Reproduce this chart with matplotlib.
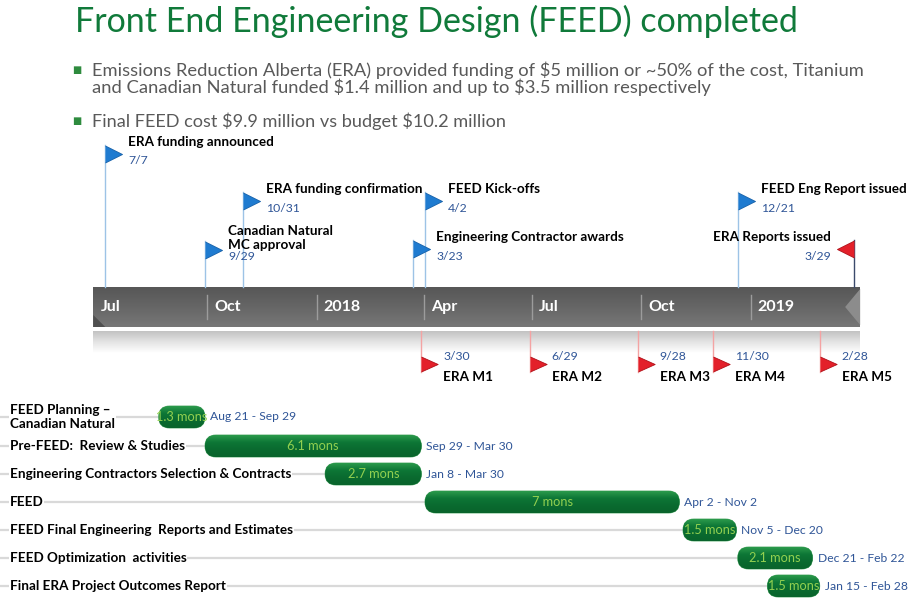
import datetime as dt
import numpy as np
import matplotlib
matplotlib.use("Agg")
import matplotlib.pyplot as plt
import matplotlib.dates as mdates
from matplotlib.patches import FancyBboxPatch, Polygon
from matplotlib.colors import LinearSegmentedColormap
from matplotlib.transforms import offset_copy, blended_transform_factory

plt.rcParams['font.family'] = ['Lato', 'DejaVu Sans']

# ---------------- data ----------------
title = "Front End Engineering Design (FEED) completed"
bullets = [
    "Emissions Reduction Alberta (ERA) provided funding of \\$5 million or ~50% of the cost, Titanium\n"
    "and Canadian Natural funded \\$1.4 million and up to \\$3.5 million respectively",
    "Final FEED cost \\$9.9 million vs budget \\$10.2 million",
]

axis_start = "2017-06-27"
axis_end = "2019-04-03"
axis_ticks = ["2017-07-01", "2017-10-01", "2018-01-01", "2018-04-01",
              "2018-07-01", "2018-10-01", "2019-01-01"]
axis_labels = ["Jul", "Oct", "2018", "Apr", "Jul", "Oct", "2019"]

top_events = ["ERA funding announced", "Canadian Natural\nMC approval", "ERA funding confirmation",
              "Engineering Contractor awards", "FEED Kick-offs", "FEED Eng Report issued",
              "ERA Reports issued"]
top_dates = ["2017-07-07", "2017-09-29", "2017-10-31", "2018-03-23", "2018-04-02",
             "2018-12-21", "2019-03-29"]

era_names = ["ERA M1", "ERA M2", "ERA M3", "ERA M4", "ERA M5"]
era_dates = ["2018-03-30", "2018-06-29", "2018-09-28", "2018-11-30", "2019-02-28"]

tasks = ["FEED Planning \u2013\nCanadian Natural", "Pre-FEED:  Review & Studies",
         "Engineering Contractors Selection & Contracts", "FEED",
         "FEED Final Engineering  Reports and Estimates", "FEED Optimization  activities",
         "Final ERA Project Outcomes Report"]
task_start = ["2017-08-21", "2017-09-29", "2018-01-08", "2018-04-02", "2018-11-05",
              "2018-12-21", "2019-01-15"]
task_end = ["2017-09-29", "2018-03-30", "2018-03-30", "2018-11-02", "2018-12-20",
            "2019-02-22", "2019-02-28"]
task_dur = ["1.3 mons", "6.1 mons", "2.7 mons", "7 mons", "1.5 mons", "2.1 mons", "1.5 mons"]

# ---------------- layout (pixels) ----------------
W, H = 923, 607
PX_PER_DAY = 1.189
ORIGIN_PX = 98           # where 1 Jul 2017 sits
top_flag_y = [154, 250, 201, 249, 201, 201, 249]
top_side = ['r', 'r', 'r', 'r', 'r', 'r', 'l']
bar_top, bar_bot = 287, 327
row_y = [417, 446, 474, 502, 530, 558, 586]

GREEN = '#107a3a'
BLUE_TXT = '#2f5597'
LBL = 9.7


def d(s):
    return mdates.datestr2num(s)


def day(s):
    return dt.date.fromisoformat(s)


fig = plt.figure(figsize=(W / 100, H / 100), dpi=100)
ax = fig.add_axes([0, 0, 1, 1])
ax.axis('off')
x0 = d("2017-07-01")
ax.set_xlim(x0 - ORIGIN_PX / PX_PER_DAY, x0 + (W - ORIGIN_PX) / PX_PER_DAY)
ax.set_ylim(H, 0)
xleft = ax.get_xlim()[0]

def shift(px):
    return offset_copy(ax.transData, fig=fig, x=px, y=0, units='dots')

# title + bullets
fig.text(75 / W, 1 - 21 / H, title, color=GREEN, fontsize=24.5, va='center')
fig.text(72 / W, 1 - 70 / H, '\u25a0', color='#2e8b3e', fontsize=7, va='center',
         family='DejaVu Sans')
fig.text(92 / W, 1 - 79 / H, bullets[0], color='#595959', fontsize=13.25, va='center',
         linespacing=0.98)
fig.text(72 / W, 1 - 121 / H, '\u25a0', color='#2e8b3e', fontsize=7, va='center',
         family='DejaVu Sans')
fig.text(92 / W, 1 - 121 / H, bullets[1], color='#595959', fontsize=13.1, va='center')

# timeline band
xs, xe = d(axis_start), d(axis_end)
grad = np.linspace(0, 1, 64).reshape(-1, 1)
bar_cmap = LinearSegmentedColormap.from_list('bar', ['#575757', '#666666', '#777777'])
ax.imshow(grad, extent=(xs, xe, bar_bot, bar_top), cmap=bar_cmap, aspect='auto', zorder=2)
shadow_cmap = LinearSegmentedColormap.from_list('sh', ['#c2c2c2', '#e4e4e4', '#ffffff'])
ax.imshow(grad, extent=(xs, xe, 353, 331), cmap=shadow_cmap, aspect='auto', zorder=1)
ax.add_patch(Polygon([(xe - 15 / PX_PER_DAY, 307), (xe, bar_top + 2), (xe, bar_bot - 2)],
                     closed=True, facecolor='#8c8c8c', edgecolor='none', zorder=3))
ax.add_patch(Polygon([(xs, bar_bot), (xs, bar_bot - 12), (xs + 12 / PX_PER_DAY, bar_bot)],
                     closed=True, facecolor='#4f4f4f', edgecolor='none', zorder=3))

for i, (t, lab) in enumerate(zip(axis_ticks, axis_labels)):
    if i > 0:
        ax.plot([d(t), d(t)], [295, 319], color='#9c9c9c', lw=1, zorder=3)
    ax.text(d(t), 307, lab, transform=shift(7 if i else 3), color='white', fontsize=11.5,
            fontweight='bold', va='center', zorder=4)

# top milestones
flag_r = [(0, 0.5), (1, 0), (0, -0.5)]
flag_l = [(0, 0.5), (-1, 0), (0, -0.5)]
for name, s, fy, side in zip(top_events, top_dates, top_flag_y, top_side):
    x = d(s)
    t = day(s)
    if side == 'r':
        ax.plot([x, x], [fy - 9, bar_top], color='#9dc3e6', lw=1, zorder=2)
        ax.plot([x], [fy], marker=flag_r, markersize=24.5, color='#1f7bd0',
                markeredgecolor='#1560a8', markeredgewidth=0.6, zorder=5)
        ax.text(x, fy - 12, name, transform=shift(23), fontsize=LBL, fontweight='bold',
                va='center', linespacing=1.25, zorder=6)
        ax.text(x, fy + 7, f"{t.month}/{t.day}", transform=shift(23), fontsize=8.8,
                color=BLUE_TXT, va='center', zorder=6)
    else:
        ax.plot([x, x], [fy - 9, bar_top], color='#3b4a6b', lw=1, zorder=2)
        ax.plot([x], [fy], marker=flag_l, markersize=24.5, color='#e3202a',
                markeredgecolor='#b01018', markeredgewidth=0.6, zorder=5)
        ax.text(x, fy - 12, name, transform=shift(-23), fontsize=LBL, fontweight='bold',
                va='center', ha='right', zorder=6)
        ax.text(x, fy + 7, f"{t.month}/{t.day}", transform=shift(-23), fontsize=8.8,
                color=BLUE_TXT, va='center', ha='right', zorder=6)

# ERA payment milestones
for name, s in zip(era_names, era_dates):
    x = d(s)
    t = day(s)
    ax.plot([x, x], [331, 372], color='#f4a3a3', lw=1, zorder=2)
    ax.plot([x], [364], marker=[(0, 0.45), (1, 0), (0, -0.45)], markersize=24,
            color='#e3202a', markeredgecolor='#b01018', markeredgewidth=0.6, zorder=5)
    ax.text(x, 357, f"{t.month}/{t.day}", transform=shift(22), fontsize=8.8,
            color=BLUE_TXT, va='center', zorder=6)
    ax.text(x, 377, name, transform=shift(22), fontsize=LBL, fontweight='bold',
            va='center', zorder=6)

# gantt rows
lab_tr = blended_transform_factory(ax.transAxes, ax.transData)
green_cmap = LinearSegmentedColormap.from_list('g', ['#2b9a4c', '#0d7636', '#0a6a2f', '#09642c'])
r = 11
for name, s, e, dur, y in zip(tasks, task_start, task_end, task_dur, row_y):
    a, b = d(s), d(e)
    ax.plot([xleft, a], [y, y], color='#d9d9d9', lw=1.6, zorder=1)
    ax.text(10 / W, y, name, transform=lab_tr, fontsize=LBL, fontweight='bold', va='center',
            linespacing=1.3, zorder=3,
            bbox=dict(facecolor='white', edgecolor='none', pad=0.5))
    patch = FancyBboxPatch((a, y - r), b - a, 2 * r,
                           boxstyle=f"round,pad=0,rounding_size={r / PX_PER_DAY}",
                           mutation_aspect=PX_PER_DAY, facecolor='#0c7033',
                           edgecolor='#4fa866', linewidth=0.6, zorder=4)
    ax.add_patch(patch)
    im = ax.imshow(grad, extent=(a, b, y + r, y - r), cmap=green_cmap, aspect='auto',
                   zorder=4.5)
    im.set_clip_path(patch)
    ax.text((a + b) / 2, y, dur, color='#92d050', fontsize=9.2, ha='center', va='center',
            zorder=6)
    ta, tb = day(s), day(e)
    ax.text(b, y, f"{ta:%b} {ta.day} - {tb:%b} {tb.day}", transform=shift(5),
            color=BLUE_TXT, fontsize=8.7, va='center', zorder=6)

ax.set_xlim(x0 - ORIGIN_PX / PX_PER_DAY, x0 + (W - ORIGIN_PX) / PX_PER_DAY)
ax.set_ylim(H, 0)
fig.savefig("out.png", dpi=100)
